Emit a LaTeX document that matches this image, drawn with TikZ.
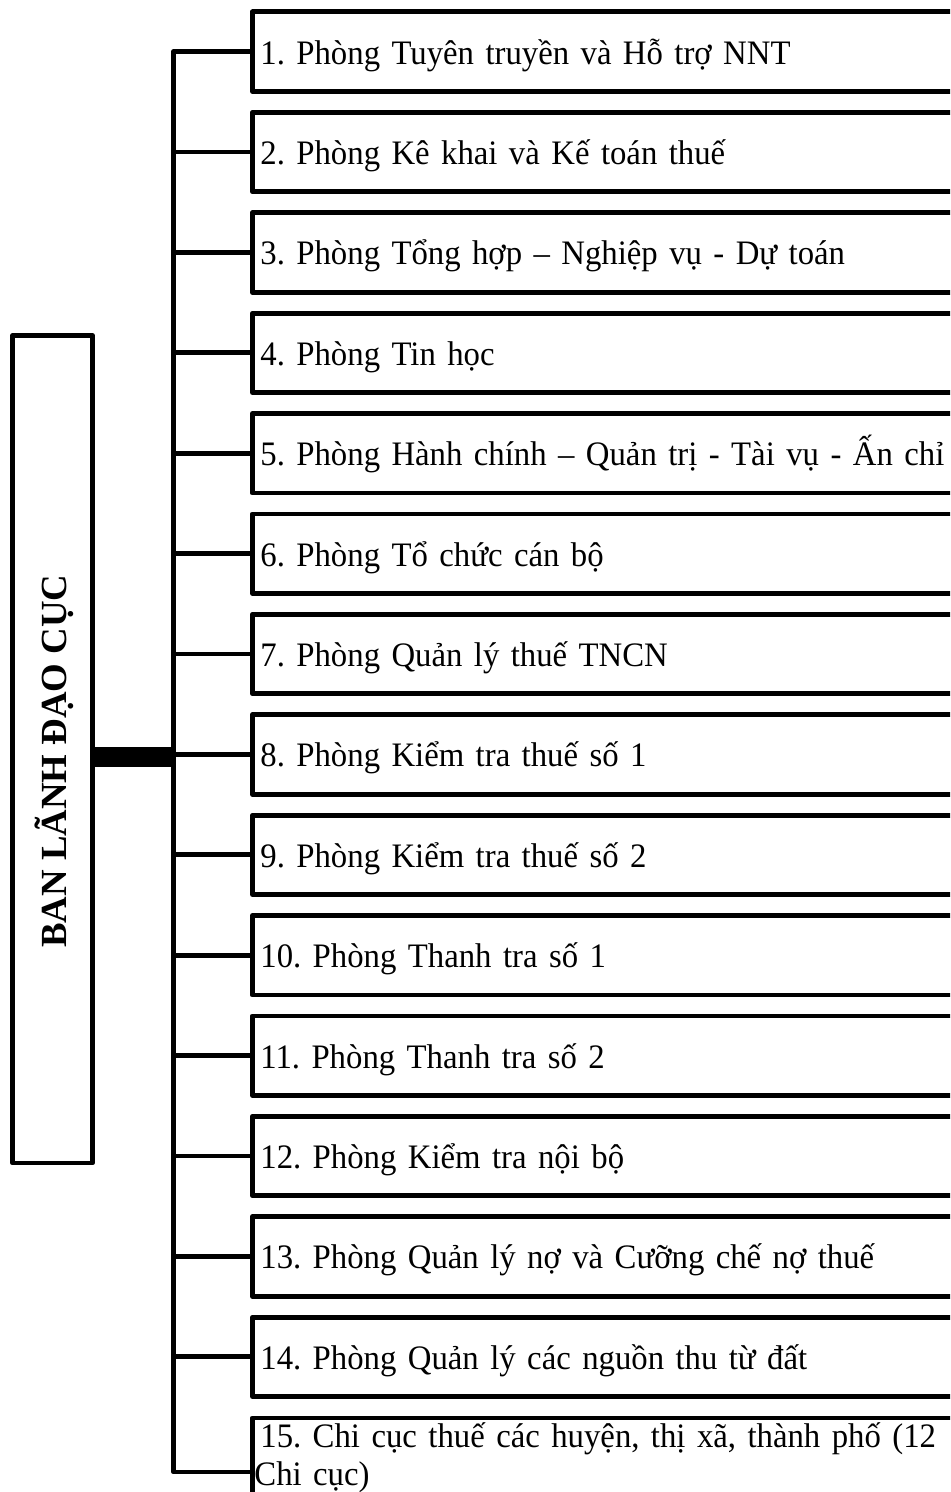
\documentclass[tikz,border=0pt]{standalone}
\usepackage{fontspec}
\setmainfont{Liberation Serif}[FakeStretch=0.955]
\newfontfamily\leadfont{Liberation Serif}
\frenchspacing
\begin{document}
\begin{tikzpicture}[x=1bp,y=-1bp,
  every node/.style={font=\fontsize{34.3bp}{38bp}\selectfont},
  conn/.style={line width=4.8bp, line join=round, line cap=round},
  thickbar/.style={line width=20bp},
  dept/.style={draw, line width=4.8bp, line join=round, anchor=north west,
    minimum width=760bp, minimum height=79.5bp, inner ysep=0pt, inner xsep=8bp,
    text width=744bp, align=left, text height=33bp, text depth=8.2bp},
  leadbox/.style={draw, line width=4.8bp, line join=round, rotate=90,
    minimum width=827.5bp, minimum height=80bp, inner sep=0pt,
    font=\leadfont\bfseries\fontsize{36.8bp}{40bp}\selectfont, text height=28.4bp, text depth=0bp}
]
\useasboundingbox (0,0) rectangle (950,1492);
\clip (0,0) rectangle (950,1492);

\node[leadbox] (lead) at (52.5,749.25) {BAN LÃNH ĐẠO CỤC\rule{24bp}{0bp}};

\foreach \i/\t in {
  1/{1. Phòng Tuyên truyền và Hỗ trợ NNT},
  2/{2. Phòng Kê khai và Kế toán thuế},
  3/{3. Phòng Tổng hợp – Nghiệp vụ - Dự toán},
  4/{4. Phòng Tin học},
  5/{5. Phòng Hành chính – Quản trị - Tài vụ - Ấn chỉ},
  6/{6. Phòng Tổ chức cán bộ},
  7/{7. Phòng Quản lý thuế TNCN},
  8/{8. Phòng Kiểm tra thuế số 1},
  9/{9. Phòng Kiểm tra thuế số 2},
  10/{10. Phòng Thanh tra số 1},
  11/{11. Phòng Thanh tra số 2},
  12/{12. Phòng Kiểm tra nội bộ},
  13/{13. Phòng Quản lý nợ và Cưỡng chế nợ thuế},
  14/{14. Phòng Quản lý các nguồn thu từ đất}}
{
  \node[dept] (b\i) at (250,{9.5+100.4*(\i-1)}) {\t};
}
\node[dept, minimum height=107bp, inner xsep=2bp, text width=756bp,
  text height=30bp, text depth=78bp] (b15) at (250,1415.5)
  {\hspace{6bp}15. Chi cục thuế các huyện, thị xã, thành phố (12\\Chi cục)};

\coordinate (bus) at (173.5,0);
\draw[conn] (b1.west) -- (b1.west -| bus) -- (b15.west -| bus) -- (b15.west);
\foreach \i in {2,...,14} {
  \draw[conn] (b\i.west -| bus) -- (b\i.west);
}
\draw[thickbar] ([yshift=-8bp]lead.south) -- ([yshift=-8bp]lead.south -| bus);
\end{tikzpicture}
\end{document}
